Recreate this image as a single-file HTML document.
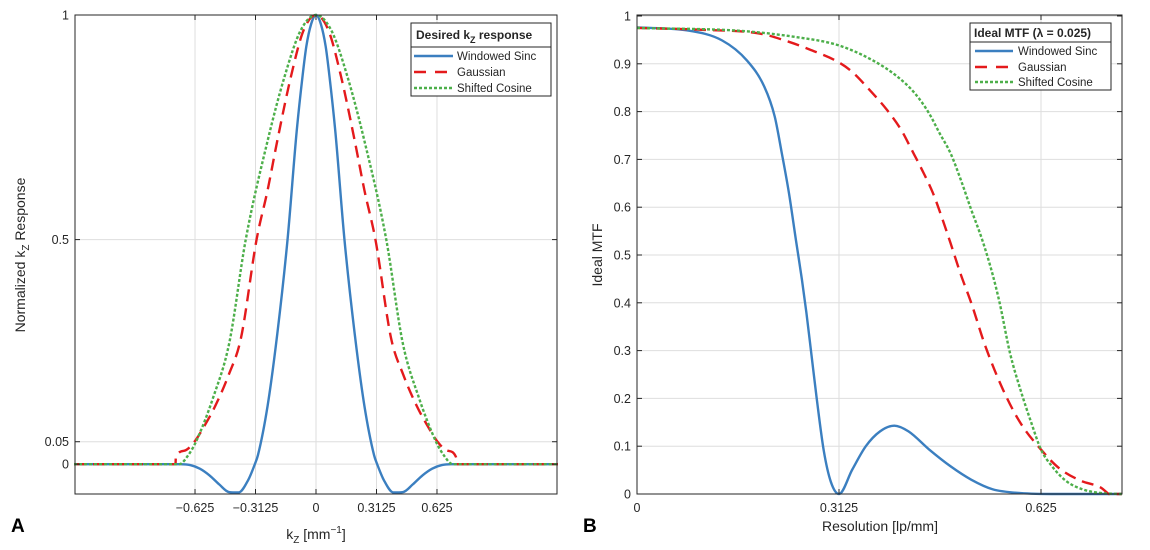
<!DOCTYPE html>
<html><head><meta charset="utf-8">
<style>
html,body{margin:0;padding:0;background:#fff;}
svg{display:block;font-family:"Liberation Sans","DejaVu Sans",sans-serif;}
</style></head>
<body>
<svg id="fig" width="1150" height="550" viewBox="0 0 1150 550"></svg>
<script>
// ---- Panel A data (positive half, mirrored) ----
const kzSinc   = [0,0.025,0.05,0.07,0.1,0.147,0.2,0.25,0.3,0.316,0.35,0.4,0.45,0.5,0.55,0.6,0.65,0.7,1.25];
const valSinc  = [1,0.98,0.93,0.862,0.74,0.5,0.29,0.13,0.02,0,-0.035,-0.063,-0.062,-0.045,-0.025,-0.01,-0.002,0,0];
const kzGauss  = [0,0.065,0.13,0.2,0.25,0.307,0.388,0.45,0.52,0.57,0.628,0.68,0.724,0.726,1.25];
const valGauss = [1,0.965,0.862,0.72,0.61,0.5,0.28,0.2,0.13,0.09,0.05,0.03,0.015,0,0];
const kzCos    = [0,0.08,0.163,0.25,0.363,0.448,0.53,0.62,0.66,0.706,1.25];
const valCos   = [1,0.965,0.862,0.72,0.5,0.27,0.15,0.05,0.02,0,0];
const ticksAX  = [-0.625,-0.3125,0,0.3125,0.625];
const ticksAXL = ["\u22120.625","\u22120.3125","0","0.3125","0.625"];
const ticksAY  = [0,0.05,0.5,1];
const ticksAYL = ["0","0.05","0.5","1"];
// ---- Panel B data ----
const resSinc  = [0,0.077,0.1315,0.17,0.197,0.213,0.224,0.235,0.246,0.255,0.262,0.27,0.278,0.289,0.3,0.3125,0.333,0.354,0.376,0.398,0.42,0.452,0.485,0.517,0.55,0.593,0.65,0.75];
const mtfSinc  = [0.976,0.97,0.949,0.907,0.852,0.79,0.713,0.63,0.53,0.45,0.38,0.29,0.2,0.09,0.025,0,0.051,0.1,0.131,0.143,0.131,0.093,0.058,0.03,0.01,0.002,0,0];
const resGauss = [0,0.104,0.191,0.235,0.267,0.311,0.333,0.36,0.387,0.409,0.425,0.441,0.458,0.471,0.485,0.501,0.517,0.539,0.566,0.593,0.625,0.653,0.686,0.718,0.727,0.73,0.75];
const mtfGauss = [0.975,0.971,0.963,0.946,0.93,0.904,0.883,0.845,0.803,0.761,0.72,0.678,0.629,0.581,0.525,0.459,0.4,0.309,0.219,0.149,0.093,0.054,0.028,0.013,0.003,0,0];
const resCos   = [0,0.159,0.246,0.311,0.365,0.403,0.43,0.452,0.468,0.485,0.501,0.517,0.534,0.55,0.561,0.577,0.593,0.61,0.625,0.642,0.664,0.691,0.718,0.75];
const mtfCos   = [0.975,0.969,0.956,0.939,0.907,0.873,0.838,0.796,0.755,0.713,0.657,0.595,0.532,0.46,0.4,0.295,0.219,0.149,0.093,0.058,0.027,0.009,0.002,0];
const ticksBX  = [0,0.3125,0.625];
const ticksBXL = ["0","0.3125","0.625"];
const ticksBY  = [0,0.1,0.2,0.3,0.4,0.5,0.6,0.7,0.8,0.9,1];
const ticksBYL = ["0","0.1","0.2","0.3","0.4","0.5","0.6","0.7","0.8","0.9","1"];

const NS="http://www.w3.org/2000/svg";
const svg=document.getElementById('fig');
function mk(tag,attrs,parent){const e=document.createElementNS(NS,tag);for(const k in attrs)e.setAttribute(k,attrs[k]);(parent||svg).appendChild(e);return e;}
const C={blue:"#3b7fc0",red:"#e41a1c",green:"#4daf4a",txt:"#262626",grid:"#dedede"};

function smoothPath(p){
  const n=p.length; if(n<2) return '';
  const d=[],m=[];
  for(let i=0;i<n-1;i++){const dx=p[i+1][0]-p[i][0];d.push(dx===0?0:(p[i+1][1]-p[i][1])/dx);}
  m[0]=d[0]; m[n-1]=d[n-2];
  for(let i=1;i<n-1;i++){ m[i]=(d[i-1]*d[i]<=0)?0:(d[i-1]+d[i])/2; }
  for(let i=0;i<n-1;i++){
    if(d[i]===0){m[i]=0;m[i+1]=0;continue;}
    const a=m[i]/d[i],b=m[i+1]/d[i],s=a*a+b*b;
    if(s>9){const t=3/Math.sqrt(s);m[i]=t*a*d[i];m[i+1]=t*b*d[i];}
  }
  let s='M'+p[0][0].toFixed(2)+','+p[0][1].toFixed(2);
  for(let i=0;i<n-1;i++){
    const h=(p[i+1][0]-p[i][0])/3;
    s+=' C'+(p[i][0]+h).toFixed(2)+','+(p[i][1]+m[i]*h).toFixed(2)+' '+(p[i+1][0]-h).toFixed(2)+','+(p[i+1][1]-m[i+1]*h).toFixed(2)+' '+p[i+1][0].toFixed(2)+','+p[i+1][1].toFixed(2);
  }
  return s;
}

function panel(o){
  const g=mk('g',{});
  
  
  const sx=v=>o.x0+(v-o.xmin)/(o.xmax-o.xmin)*(o.x1-o.x0);
  const sy=v=>o.y1-(v-o.ymin)/(o.ymax-o.ymin)*(o.y1-o.y0);
  o.tx.forEach(t=>{const l=mk('line',{x1:sx(t),x2:sx(t),y1:o.y0,y2:o.y1,stroke:C.grid,'stroke-width':1},g);
    });
  o.ty.forEach(t=>{const l=mk('line',{x1:o.x0,x2:o.x1,y1:sy(t),y2:sy(t),stroke:C.grid,'stroke-width':1},g);
    });
  o.series.forEach(s=>{
    let pts=[];
    if(s.mirror){for(let i=s.x.length-1;i>0;i--)pts.push([sx(-s.x[i]),sy(s.y[i])]);}
    for(let i=0;i<s.x.length;i++)pts.push([sx(s.x[i]),sy(s.y[i])]);
    const p=mk('path',{d:smoothPath(pts),fill:'none',stroke:s.color,'stroke-width':2.4,'stroke-dasharray':s.dash||'none','stroke-linejoin':'round'},g);
    
    
  });
  const b=mk('rect',{x:o.x0,y:o.y0,width:o.x1-o.x0,height:o.y1-o.y0,fill:'none',stroke:'#262626','stroke-width':1},g);
  
  o.tx.forEach((t,i)=>{
    mk('line',{x1:sx(t),x2:sx(t),y1:o.y1,y2:o.y1-5,stroke:'#262626'},g);
    mk('line',{x1:sx(t),x2:sx(t),y1:o.y0,y2:o.y0+5,stroke:'#262626'},g);
    const tl=mk('text',{x:sx(t),y:o.y1+18,'text-anchor':'middle','font-size':12.5,fill:C.txt},g);
    tl.textContent=o.txl[i];
    
  });
  o.ty.forEach((t,i)=>{
    mk('line',{x1:o.x0,x2:o.x0+5,y1:sy(t),y2:sy(t),stroke:'#262626'},g);
    mk('line',{x1:o.x1,x2:o.x1-5,y1:sy(t),y2:sy(t),stroke:'#262626'},g);
    const tl=mk('text',{x:o.x0-6,y:sy(t)+4.5,'text-anchor':'end','font-size':12.5,fill:C.txt},g);
    tl.textContent=o.tyl[i];
    
  });
  return g;
}

panel({name:'panel-a-chart',x0:75,x1:557,y0:15,y1:494,xmin:-1.245,xmax:1.245,ymin:-0.0664,ymax:1.0,
  tx:ticksAX,txl:ticksAXL,ty:ticksAY,tyl:ticksAYL,
  series:[
    {name:'windowed-sinc-line-a',x:kzSinc,y:valSinc,color:C.blue,mirror:true},
    {name:'gaussian-line-a',x:kzGauss,y:valGauss,color:C.red,dash:'12 7',mirror:true},
    {name:'shifted-cosine-line-a',x:kzCos,y:valCos,color:C.green,dash:'3 2',mirror:true}
  ]});
panel({name:'panel-b-chart',x0:637,x1:1122,y0:15,y1:494,xmin:0,xmax:0.7503,ymin:0,ymax:1.0021,
  tx:ticksBX,txl:ticksBXL,ty:ticksBY,tyl:ticksBYL,
  series:[
    {name:'windowed-sinc-line-b',x:resSinc,y:mtfSinc,color:C.blue},
    {name:'gaussian-line-b',x:resGauss,y:mtfGauss,color:C.red,dash:'12 7'},
    {name:'shifted-cosine-line-b',x:resCos,y:mtfCos,color:C.green,dash:'3 2'}
  ]});
</script>
<svg width="1150" height="550" style="position:absolute;left:0;top:0;font-family:'Liberation Sans','DejaVu Sans',sans-serif;">
  <g>
    <rect x="411" y="23" width="140" height="73" fill="#fff" stroke="#262626" stroke-width="1"/>
    <line x1="411" y1="47" x2="551" y2="47" stroke="#262626"/>
    <text x="416" y="39" font-size="12" font-weight="bold" fill="#262626">Desired k<tspan font-size="9" dy="4">Z</tspan><tspan dy="-4"> response</tspan></text>
    <line x1="414" y1="56" x2="453" y2="56" stroke="#3b7fc0" stroke-width="2.4"/>
    <text x="457" y="60" font-size="11.5" fill="#262626">Windowed Sinc</text>
    <line x1="414" y1="72" x2="453" y2="72" stroke="#e41a1c" stroke-width="2.4" stroke-dasharray="12 9"/>
    <text x="457" y="76" font-size="11.5" fill="#262626">Gaussian</text>
    <line x1="414" y1="88" x2="453" y2="88" stroke="#4daf4a" stroke-width="2.4" stroke-dasharray="3 2"/>
    <text x="457" y="92" font-size="11.5" fill="#262626">Shifted Cosine</text>
  </g>
  <g>
    <rect x="970" y="23" width="141" height="67" fill="#fff" stroke="#262626" stroke-width="1"/>
    <line x1="970" y1="42" x2="1111" y2="42" stroke="#262626"/>
    <text x="974" y="37" font-size="12" font-weight="bold" fill="#262626">Ideal MTF (λ = 0.025)</text>
    <line x1="975" y1="51" x2="1013" y2="51" stroke="#3b7fc0" stroke-width="2.4"/>
    <text x="1018" y="55" font-size="11.5" fill="#262626">Windowed Sinc</text>
    <line x1="975" y1="67" x2="1013" y2="67" stroke="#e41a1c" stroke-width="2.4" stroke-dasharray="12 9"/>
    <text x="1018" y="71" font-size="11.5" fill="#262626">Gaussian</text>
    <line x1="975" y1="82" x2="1013" y2="82" stroke="#4daf4a" stroke-width="2.4" stroke-dasharray="3 2"/>
    <text x="1018" y="86" font-size="11.5" fill="#262626">Shifted Cosine</text>
  </g>
  <text x="316" y="539" text-anchor="middle" font-size="14" fill="#262626">k<tspan font-size="10" dy="4">Z</tspan><tspan dy="-4"> [mm</tspan><tspan font-size="10" dy="-6">−1</tspan><tspan dy="6">]</tspan></text>
  <text transform="translate(25,255) rotate(-90)" text-anchor="middle" font-size="14" fill="#262626">Normalized k<tspan font-size="10" dy="4">Z</tspan><tspan dy="-4"> Response</tspan></text>
  <text x="880" y="531" text-anchor="middle" font-size="14" fill="#262626">Resolution [lp/mm]</text>
  <text transform="translate(602,255) rotate(-90)" text-anchor="middle" font-size="14" fill="#262626">Ideal MTF</text>
  <text x="11" y="532" font-size="19" font-weight="bold" fill="#000">A</text>
  <text x="583" y="532" font-size="19" font-weight="bold" fill="#000">B</text>
</svg>
</body></html>
